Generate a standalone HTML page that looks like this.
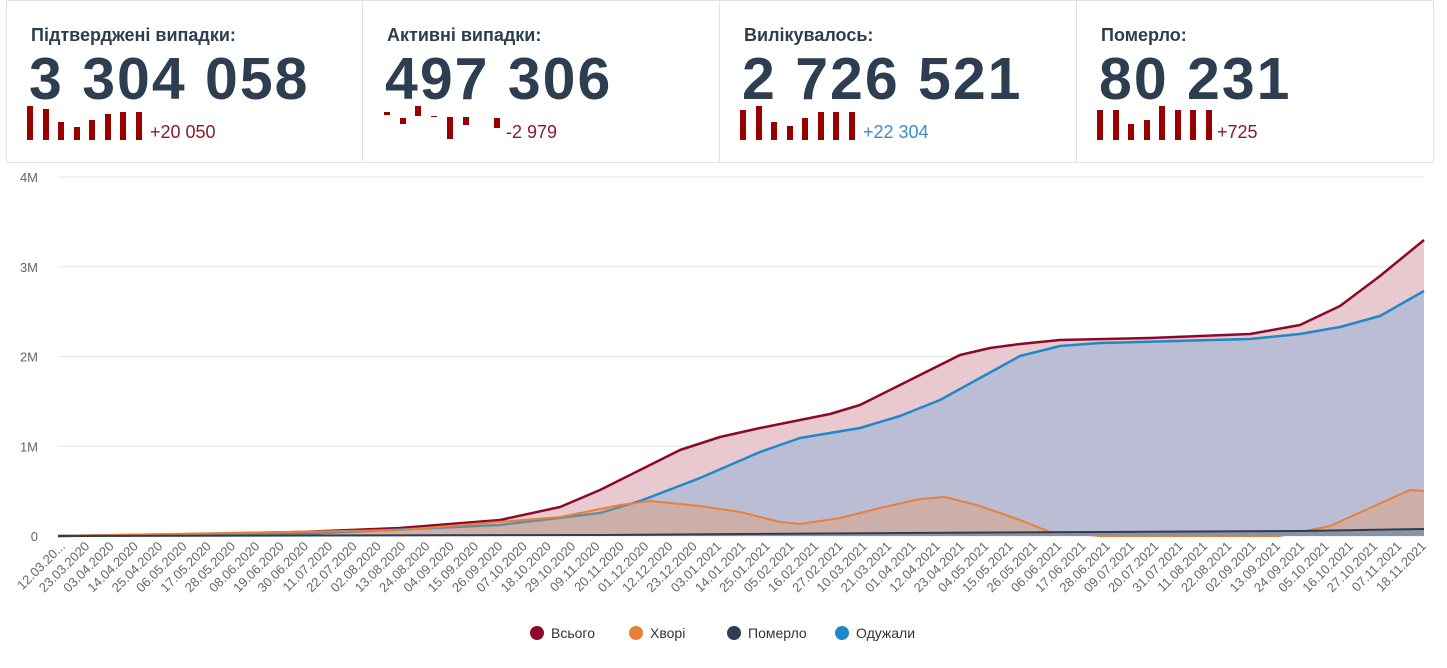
<!DOCTYPE html>
<html><head><meta charset="utf-8"><style>
body{margin:0;width:1447px;height:668px;background:#fff;font-family:"Liberation Sans",sans-serif;overflow:hidden;position:relative}
.card{position:absolute;top:0;height:163px;border:1px solid #e2e2e2;box-sizing:border-box;background:#fff}
.t{position:absolute;left:24px;top:24px;font-size:18px;font-weight:bold;color:#2c3e50}
.n{position:absolute;left:22px;top:44px;font-size:59px;font-weight:bold;color:#2c3e50;letter-spacing:2px}
.d{position:absolute;top:121px;font-size:18px;color:#8b1a2a}
.b{position:absolute;width:6px;background:#990000}
</style></head><body>
<div class="card" style="left:6px;width:357px"><div class="t">Підтверджені випадки:</div><div class="n">3 304 058</div><div class="d" style="left:143px">+20 050</div></div>
<div class="card" style="left:362px;width:358px"><div class="t">Активні випадки:</div><div class="n">497 306</div><div class="d" style="left:143px">-2 979</div></div>
<div class="card" style="left:719px;width:358px"><div class="t">Вилікувалось:</div><div class="n">2 726 521</div><div class="d" style="left:143px;color:#3a8fc8">+22 304</div></div>
<div class="card" style="left:1076px;width:358px"><div class="t">Померло:</div><div class="n">80 231</div><div class="d" style="left:140px">+725</div></div>
<div id="bars"></div>
<svg id="c" width="1447" height="668" style="position:absolute;left:0;top:0"></svg>
<script>
var bars=document.getElementById('bars'),h='';
function bar(x,y1,y2){h+='<div class="b" style="left:'+x+'px;top:'+y1+'px;height:'+(y2-y1)+'px"></div>';}
[34,31,18,13,20,26,28,28].forEach(function(v,i){bar(27+i*15.5,140-v,140)});
[[384,112,115],[400,118,124],[415,106,116],[431,116,117],[447,117,139],[463,117,125],[494,118,128]].forEach(function(a){bar(a[0],a[1],a[2])});
[30,34,18,14,22,28,28,28].forEach(function(v,i){bar(740+i*15.5,140-v,140)});
[30,30,16,20,34,30,30,30].forEach(function(v,i){bar(1097+i*15.5,140-v,140)});
bars.innerHTML=h;
var s='';
[0,1,2,3,4].forEach(function(i){var y=536-i*89.75;s+='<line x1="58" x2="1424" y1="'+y+'" y2="'+y+'" stroke="#e6e6e6"/>';s+='<text x="38" y="'+(y+5)+'" font-size="13" fill="#666" text-anchor="end">'+(i?i+'M':'0')+'</text>';});
function pts(a){return a.map(function(p){return p[0]+','+p[1]}).join(' ');}
var tot=[[58,536],[200,534],[300,532],[400,528],[500,520],[560,507],[600,490],[640,470],[680,450],[720,437],[760,428],[800,420],[830,414],[860,405],[900,385],[930,370],[960,355],[990,348],[1020,344],[1060,340],[1150,338],[1250,334],[1300,325],[1340,306],[1380,276],[1424,240]];
var rec=[[58,536],[300,534],[500,525],[600,513],[640,501],[700,478],[760,452],[800,438],[860,428],[900,416],[940,400],[980,378],[1020,356],[1060,346],[1100,343],[1250,339],[1300,334],[1340,327],[1380,316],[1424,291]];
var act=[[58,536],[400,530],[560,517],[620,505],[650,501],[700,506],[740,512],[780,522],[800,524],[840,518],[880,508],[920,499],[945,497],[980,506],[1020,520],[1050,532],[1100,536],[1280,536],[1330,526],[1370,508],[1410,490],[1424,491]];
var dea=[[58,536],[600,535],[900,533],[1100,532],[1300,531],[1424,529]];
function area(a,f,c,w){s+='<polygon points="'+pts(a)+' 1424,536 58,536" fill="'+f+'"/>';s+='<polyline points="'+pts(a)+'" fill="none" stroke="'+c+'" stroke-width="'+w+'" stroke-linejoin="round"/>';}
area(tot,'#e8c9d0','#8b0a2a',2.5);
area(rec,'#bbbdd4','#1e88c8',2.5);
area(act,'rgba(240,150,90,0.35)','#e8803a',2);
area(dea,'#8a93a6','#2c3e50',2);
for(var i=0;i<57;i++){var x=60+i*24.3;var d=new Date(2020,2,12+i*11);var t=('0'+d.getDate()).slice(-2)+'.'+('0'+(d.getMonth()+1)).slice(-2)+'.'+d.getFullYear();if(i==0)t='12.03.20...';s+='<text transform="translate('+(x+6)+',547) rotate(-45)" font-size="13" fill="#666" text-anchor="end">'+t+'</text>';}
[[537,'#8b0a2a','Всього'],[636,'#e8803a','Хворі'],[734,'#2c3e50','Померло'],[842,'#1e88c8','Одужали']].forEach(function(l){s+='<circle cx="'+l[0]+'" cy="633" r="7" fill="'+l[1]+'"/><text x="'+(l[0]+14)+'" y="638" font-size="14" fill="#333">'+l[2]+'</text>';});
document.getElementById('c').innerHTML=s;
</script>
</body></html>
